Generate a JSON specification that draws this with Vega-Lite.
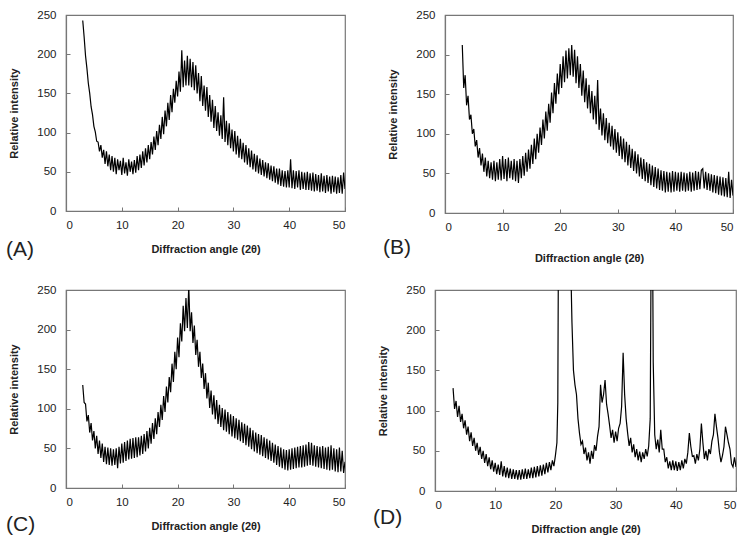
{
"$schema": "https://vega.github.io/schema/vega-lite/v6.json",
"background": "white",
"padding": {"left": 5, "top": 8, "right": 5, "bottom": 5},
"config": {
  "view": {"stroke": "#777", "strokeWidth": 1.2},
  "axis": {"grid": false, "labelFont": "Liberation Sans", "labelFontSize": 11.5, "labelColor": "#222", "titleFont": "Liberation Sans", "titleFontSize": 11, "titleFontWeight": "bold", "titleColor": "#222", "domainColor": "#777", "domainWidth": 1.2, "tickColor": "#777", "tickSize": -4},
  "axisX": {"labelPadding": 12, "titlePadding": 13},
  "axisY": {"labelPadding": 14, "titlePadding": 17},
  "title": {"font": "Liberation Sans", "fontSize": 21, "fontWeight": "normal", "color": "#222"}
},
"datasets": {
"A": [{"x":3,"y":243},{"x":3.25,"y":222},{"x":3.5,"y":198},{"x":3.75,"y":182},{"x":4,"y":163},{"x":4.25,"y":150},{"x":4.5,"y":133},{"x":4.75,"y":123},{"x":5,"y":108},{"x":5.25,"y":101},{"x":5.5,"y":89},{"x":5.75,"y":88},{"x":6,"y":76},{"x":6.25,"y":84},{"x":6.5,"y":68},{"x":6.75,"y":78},{"x":7,"y":60},{"x":7.25,"y":76},{"x":7.5,"y":57},{"x":7.75,"y":72},{"x":8,"y":52},{"x":8.25,"y":70},{"x":8.5,"y":50},{"x":8.75,"y":68},{"x":9,"y":47},{"x":9.25,"y":66},{"x":9.5,"y":52},{"x":9.75,"y":64},{"x":10,"y":46},{"x":10.25,"y":68},{"x":10.5,"y":48},{"x":10.75,"y":62},{"x":11,"y":45},{"x":11.25,"y":66},{"x":11.5,"y":50},{"x":11.75,"y":63},{"x":12,"y":47},{"x":12.25,"y":65},{"x":12.5,"y":49},{"x":12.75,"y":70},{"x":13,"y":52},{"x":13.25,"y":72},{"x":13.5,"y":55},{"x":13.75,"y":76},{"x":14,"y":58},{"x":14.25,"y":80},{"x":14.5,"y":62},{"x":14.75,"y":84},{"x":15,"y":66},{"x":15.25,"y":88},{"x":15.5,"y":72},{"x":15.75,"y":95},{"x":16,"y":78},{"x":16.25,"y":102},{"x":16.5,"y":84},{"x":16.75,"y":110},{"x":17,"y":92},{"x":17.25,"y":120},{"x":17.5,"y":98},{"x":17.75,"y":128},{"x":18,"y":108},{"x":18.25,"y":138},{"x":18.5,"y":116},{"x":18.75,"y":148},{"x":19,"y":126},{"x":19.25,"y":156},{"x":19.5,"y":138},{"x":19.75,"y":166},{"x":20,"y":146},{"x":20.25,"y":178},{"x":20.5,"y":152},{"x":20.75,"y":205},{"x":21,"y":158},{"x":21.25,"y":192},{"x":21.5,"y":160},{"x":21.75,"y":198},{"x":22,"y":160},{"x":22.25,"y":194},{"x":22.5,"y":158},{"x":22.75,"y":190},{"x":23,"y":154},{"x":23.25,"y":186},{"x":23.5,"y":150},{"x":23.75,"y":176},{"x":24,"y":140},{"x":24.25,"y":172},{"x":24.5,"y":134},{"x":24.75,"y":160},{"x":25,"y":128},{"x":25.25,"y":158},{"x":25.5,"y":120},{"x":25.75,"y":148},{"x":26,"y":114},{"x":26.25,"y":142},{"x":26.5,"y":106},{"x":26.75,"y":134},{"x":27,"y":102},{"x":27.25,"y":126},{"x":27.5,"y":96},{"x":27.75,"y":122},{"x":28,"y":92},{"x":28.25,"y":145},{"x":28.5,"y":88},{"x":28.75,"y":115},{"x":29,"y":84},{"x":29.25,"y":112},{"x":29.5,"y":80},{"x":29.75,"y":104},{"x":30,"y":76},{"x":30.25,"y":102},{"x":30.5,"y":72},{"x":30.75,"y":96},{"x":31,"y":68},{"x":31.25,"y":92},{"x":31.5,"y":66},{"x":31.75,"y":87},{"x":32,"y":62},{"x":32.25,"y":84},{"x":32.5,"y":59},{"x":32.75,"y":80},{"x":33,"y":56},{"x":33.25,"y":77},{"x":33.5,"y":53},{"x":33.75,"y":73},{"x":34,"y":50},{"x":34.25,"y":71},{"x":34.5,"y":48},{"x":34.75,"y":67},{"x":35,"y":46},{"x":35.25,"y":65},{"x":35.5,"y":44},{"x":35.75,"y":62},{"x":36,"y":42},{"x":36.25,"y":61},{"x":36.5,"y":40},{"x":36.75,"y":58},{"x":37,"y":38},{"x":37.25,"y":57},{"x":37.5,"y":36},{"x":37.75,"y":54},{"x":38,"y":34},{"x":38.25,"y":54},{"x":38.5,"y":32},{"x":38.75,"y":52},{"x":39,"y":31},{"x":39.25,"y":51},{"x":39.5,"y":30},{"x":39.75,"y":52},{"x":40,"y":30},{"x":40.25,"y":66},{"x":40.5,"y":29},{"x":40.75,"y":52},{"x":41,"y":28},{"x":41.25,"y":51},{"x":41.5,"y":30},{"x":41.75,"y":52},{"x":42,"y":27},{"x":42.25,"y":50},{"x":42.5,"y":28},{"x":42.75,"y":49},{"x":43,"y":27},{"x":43.25,"y":50},{"x":43.5,"y":27},{"x":43.75,"y":48},{"x":44,"y":26},{"x":44.25,"y":49},{"x":44.5,"y":25},{"x":44.75,"y":47},{"x":45,"y":26},{"x":45.25,"y":46},{"x":45.5,"y":24},{"x":45.75,"y":48},{"x":46,"y":25},{"x":46.25,"y":45},{"x":46.5,"y":23},{"x":46.75,"y":46},{"x":47,"y":25},{"x":47.25,"y":44},{"x":47.5,"y":22},{"x":47.75,"y":45},{"x":48,"y":24},{"x":48.25,"y":44},{"x":48.5,"y":22},{"x":48.75,"y":43},{"x":49,"y":23},{"x":49.25,"y":46},{"x":49.5,"y":22},{"x":49.75,"y":49},{"x":50,"y":28}],
"B": [{"x":3,"y":212},{"x":3.25,"y":158},{"x":3.5,"y":174},{"x":3.75,"y":136},{"x":4,"y":148},{"x":4.25,"y":118},{"x":4.5,"y":124},{"x":4.75,"y":100},{"x":5,"y":106},{"x":5.25,"y":84},{"x":5.5,"y":92},{"x":5.75,"y":70},{"x":6,"y":82},{"x":6.25,"y":60},{"x":6.5,"y":75},{"x":6.75,"y":52},{"x":7,"y":70},{"x":7.25,"y":46},{"x":7.5,"y":66},{"x":7.75,"y":44},{"x":8,"y":64},{"x":8.25,"y":42},{"x":8.5,"y":66},{"x":8.75,"y":40},{"x":9,"y":64},{"x":9.25,"y":42},{"x":9.5,"y":68},{"x":9.75,"y":41},{"x":10,"y":72},{"x":10.25,"y":43},{"x":10.5,"y":68},{"x":10.75,"y":40},{"x":11,"y":70},{"x":11.25,"y":44},{"x":11.5,"y":66},{"x":11.75,"y":42},{"x":12,"y":68},{"x":12.25,"y":40},{"x":12.5,"y":66},{"x":12.75,"y":38},{"x":13,"y":68},{"x":13.25,"y":44},{"x":13.5,"y":72},{"x":13.75,"y":47},{"x":14,"y":76},{"x":14.25,"y":52},{"x":14.5,"y":80},{"x":14.75,"y":56},{"x":15,"y":86},{"x":15.25,"y":62},{"x":15.5,"y":94},{"x":15.75,"y":68},{"x":16,"y":100},{"x":16.25,"y":76},{"x":16.5,"y":108},{"x":16.75,"y":86},{"x":17,"y":118},{"x":17.25,"y":94},{"x":17.5,"y":128},{"x":17.75,"y":104},{"x":18,"y":138},{"x":18.25,"y":114},{"x":18.5,"y":152},{"x":18.75,"y":126},{"x":19,"y":164},{"x":19.25,"y":138},{"x":19.5,"y":176},{"x":19.75,"y":150},{"x":20,"y":188},{"x":20.25,"y":158},{"x":20.5,"y":198},{"x":20.75,"y":165},{"x":21,"y":205},{"x":21.25,"y":170},{"x":21.5,"y":208},{"x":21.75,"y":174},{"x":22,"y":212},{"x":22.25,"y":172},{"x":22.5,"y":206},{"x":22.75,"y":164},{"x":23,"y":198},{"x":23.25,"y":158},{"x":23.5,"y":188},{"x":23.75,"y":148},{"x":24,"y":180},{"x":24.25,"y":140},{"x":24.5,"y":170},{"x":24.75,"y":132},{"x":25,"y":162},{"x":25.25,"y":126},{"x":25.5,"y":154},{"x":25.75,"y":118},{"x":26,"y":148},{"x":26.25,"y":112},{"x":26.5,"y":168},{"x":26.75,"y":105},{"x":27,"y":132},{"x":27.25,"y":98},{"x":27.5,"y":126},{"x":27.75,"y":92},{"x":28,"y":120},{"x":28.25,"y":88},{"x":28.5,"y":114},{"x":28.75,"y":84},{"x":29,"y":110},{"x":29.25,"y":80},{"x":29.5,"y":106},{"x":29.75,"y":76},{"x":30,"y":102},{"x":30.25,"y":72},{"x":30.5,"y":97},{"x":30.75,"y":68},{"x":31,"y":94},{"x":31.25,"y":64},{"x":31.5,"y":90},{"x":31.75,"y":60},{"x":32,"y":86},{"x":32.25,"y":57},{"x":32.5,"y":81},{"x":32.75,"y":53},{"x":33,"y":78},{"x":33.25,"y":50},{"x":33.5,"y":74},{"x":33.75,"y":46},{"x":34,"y":70},{"x":34.25,"y":43},{"x":34.5,"y":68},{"x":34.75,"y":40},{"x":35,"y":64},{"x":35.25,"y":38},{"x":35.5,"y":62},{"x":35.75,"y":35},{"x":36,"y":60},{"x":36.25,"y":33},{"x":36.5,"y":58},{"x":36.75,"y":31},{"x":37,"y":56},{"x":37.25,"y":29},{"x":37.5,"y":54},{"x":37.75,"y":28},{"x":38,"y":53},{"x":38.25,"y":26},{"x":38.5,"y":52},{"x":38.75,"y":27},{"x":39,"y":51},{"x":39.25,"y":26},{"x":39.5,"y":53},{"x":39.75,"y":27},{"x":40,"y":52},{"x":40.25,"y":28},{"x":40.5,"y":51},{"x":40.75,"y":27},{"x":41,"y":52},{"x":41.25,"y":28},{"x":41.5,"y":51},{"x":41.75,"y":27},{"x":42,"y":50},{"x":42.25,"y":28},{"x":42.5,"y":52},{"x":42.75,"y":27},{"x":43,"y":51},{"x":43.25,"y":28},{"x":43.5,"y":53},{"x":43.75,"y":29},{"x":44,"y":52},{"x":44.25,"y":30},{"x":44.5,"y":54},{"x":44.75,"y":56},{"x":45,"y":31},{"x":45.25,"y":52},{"x":45.5,"y":29},{"x":45.75,"y":50},{"x":46,"y":28},{"x":46.25,"y":49},{"x":46.5,"y":26},{"x":46.75,"y":48},{"x":47,"y":25},{"x":47.25,"y":47},{"x":47.5,"y":23},{"x":47.75,"y":46},{"x":48,"y":22},{"x":48.25,"y":45},{"x":48.5,"y":21},{"x":48.75,"y":44},{"x":49,"y":20},{"x":49.25,"y":52},{"x":49.5,"y":19},{"x":49.75,"y":42},{"x":50,"y":22}],
"C": [{"x":3,"y":130},{"x":3.25,"y":108},{"x":3.5,"y":106},{"x":3.75,"y":84},{"x":4,"y":92},{"x":4.25,"y":70},{"x":4.5,"y":82},{"x":4.75,"y":60},{"x":5,"y":72},{"x":5.25,"y":50},{"x":5.5,"y":66},{"x":5.75,"y":43},{"x":6,"y":60},{"x":6.25,"y":38},{"x":6.5,"y":56},{"x":6.75,"y":33},{"x":7,"y":52},{"x":7.25,"y":30},{"x":7.5,"y":51},{"x":7.75,"y":29},{"x":8,"y":50},{"x":8.25,"y":28},{"x":8.5,"y":49},{"x":8.75,"y":29},{"x":9,"y":50},{"x":9.25,"y":25},{"x":9.5,"y":52},{"x":9.75,"y":31},{"x":10,"y":56},{"x":10.25,"y":32},{"x":10.5,"y":58},{"x":10.75,"y":34},{"x":11,"y":60},{"x":11.25,"y":36},{"x":11.5,"y":62},{"x":11.75,"y":37},{"x":12,"y":63},{"x":12.25,"y":38},{"x":12.5,"y":64},{"x":12.75,"y":39},{"x":13,"y":64},{"x":13.25,"y":41},{"x":13.5,"y":66},{"x":13.75,"y":43},{"x":14,"y":68},{"x":14.25,"y":46},{"x":14.5,"y":72},{"x":14.75,"y":50},{"x":15,"y":76},{"x":15.25,"y":56},{"x":15.5,"y":82},{"x":15.75,"y":62},{"x":16,"y":88},{"x":16.25,"y":68},{"x":16.5,"y":96},{"x":16.75,"y":77},{"x":17,"y":105},{"x":17.25,"y":86},{"x":17.5,"y":116},{"x":17.75,"y":96},{"x":18,"y":128},{"x":18.25,"y":108},{"x":18.5,"y":140},{"x":18.75,"y":121},{"x":19,"y":157},{"x":19.25,"y":134},{"x":19.5,"y":172},{"x":19.75,"y":150},{"x":20,"y":190},{"x":20.25,"y":165},{"x":20.5,"y":208},{"x":20.75,"y":185},{"x":21,"y":230},{"x":21.25,"y":198},{"x":21.5,"y":240},{"x":21.75,"y":202},{"x":22,"y":255},{"x":22.25,"y":198},{"x":22.5,"y":222},{"x":22.75,"y":183},{"x":23,"y":205},{"x":23.25,"y":168},{"x":23.5,"y":187},{"x":23.75,"y":153},{"x":24,"y":172},{"x":24.25,"y":139},{"x":24.5,"y":157},{"x":24.75,"y":125},{"x":25,"y":145},{"x":25.25,"y":113},{"x":25.5,"y":133},{"x":25.75,"y":101},{"x":26,"y":123},{"x":26.25,"y":93},{"x":26.5,"y":117},{"x":26.75,"y":87},{"x":27,"y":111},{"x":27.25,"y":81},{"x":27.5,"y":105},{"x":27.75,"y":77},{"x":28,"y":101},{"x":28.25,"y":73},{"x":28.5,"y":99},{"x":28.75,"y":71},{"x":29,"y":96},{"x":29.25,"y":68},{"x":29.5,"y":93},{"x":29.75,"y":65},{"x":30,"y":91},{"x":30.25,"y":63},{"x":30.5,"y":88},{"x":30.75,"y":61},{"x":31,"y":86},{"x":31.25,"y":59},{"x":31.5,"y":83},{"x":31.75,"y":57},{"x":32,"y":81},{"x":32.25,"y":54},{"x":32.5,"y":79},{"x":32.75,"y":52},{"x":33,"y":76},{"x":33.25,"y":49},{"x":33.5,"y":73},{"x":33.75,"y":46},{"x":34,"y":70},{"x":34.25,"y":44},{"x":34.5,"y":68},{"x":34.75,"y":42},{"x":35,"y":67},{"x":35.25,"y":40},{"x":35.5,"y":64},{"x":35.75,"y":38},{"x":36,"y":62},{"x":36.25,"y":36},{"x":36.5,"y":60},{"x":36.75,"y":34},{"x":37,"y":57},{"x":37.25,"y":32},{"x":37.5,"y":55},{"x":37.75,"y":29},{"x":38,"y":53},{"x":38.25,"y":27},{"x":38.5,"y":51},{"x":38.75,"y":25},{"x":39,"y":49},{"x":39.25,"y":23},{"x":39.5,"y":48},{"x":39.75,"y":22},{"x":40,"y":49},{"x":40.25,"y":23},{"x":40.5,"y":50},{"x":40.75,"y":24},{"x":41,"y":51},{"x":41.25,"y":25},{"x":41.5,"y":52},{"x":41.75,"y":26},{"x":42,"y":53},{"x":42.25,"y":26},{"x":42.5,"y":54},{"x":42.75,"y":27},{"x":43,"y":55},{"x":43.25,"y":28},{"x":43.5,"y":58},{"x":43.75,"y":29},{"x":44,"y":57},{"x":44.25,"y":28},{"x":44.5,"y":54},{"x":44.75,"y":27},{"x":45,"y":53},{"x":45.25,"y":26},{"x":45.5,"y":52},{"x":45.75,"y":25},{"x":46,"y":53},{"x":46.25,"y":24},{"x":46.5,"y":51},{"x":46.75,"y":23},{"x":47,"y":52},{"x":47.25,"y":22},{"x":47.5,"y":54},{"x":47.75,"y":23},{"x":48,"y":50},{"x":48.25,"y":21},{"x":48.5,"y":49},{"x":48.75,"y":20},{"x":49,"y":51},{"x":49.25,"y":21},{"x":49.5,"y":47},{"x":49.75,"y":19},{"x":50,"y":33}],
"D": [{"x":3,"y":128},{"x":3.25,"y":102},{"x":3.5,"y":112},{"x":3.75,"y":92},{"x":4,"y":106},{"x":4.25,"y":86},{"x":4.5,"y":96},{"x":4.75,"y":78},{"x":5,"y":88},{"x":5.25,"y":70},{"x":5.5,"y":80},{"x":5.75,"y":62},{"x":6,"y":73},{"x":6.25,"y":56},{"x":6.5,"y":66},{"x":6.75,"y":50},{"x":7,"y":60},{"x":7.25,"y":45},{"x":7.5,"y":55},{"x":7.75,"y":40},{"x":8,"y":50},{"x":8.25,"y":35},{"x":8.5,"y":46},{"x":8.75,"y":31},{"x":9,"y":42},{"x":9.25,"y":27},{"x":9.5,"y":38},{"x":9.75,"y":24},{"x":10,"y":35},{"x":10.25,"y":21},{"x":10.5,"y":33},{"x":10.75,"y":20},{"x":11,"y":37},{"x":11.25,"y":18},{"x":11.5,"y":31},{"x":11.75,"y":17},{"x":12,"y":29},{"x":12.25,"y":16},{"x":12.5,"y":28},{"x":12.75,"y":15},{"x":13,"y":27},{"x":13.25,"y":15},{"x":13.5,"y":26},{"x":13.75,"y":14},{"x":14,"y":26},{"x":14.25,"y":14},{"x":14.5,"y":27},{"x":14.75,"y":15},{"x":15,"y":28},{"x":15.25,"y":15},{"x":15.5,"y":27},{"x":15.75,"y":16},{"x":16,"y":29},{"x":16.25,"y":16},{"x":16.5,"y":30},{"x":16.75,"y":17},{"x":17,"y":31},{"x":17.25,"y":18},{"x":17.5,"y":32},{"x":17.75,"y":19},{"x":18,"y":33},{"x":18.25,"y":21},{"x":18.5,"y":35},{"x":18.75,"y":23},{"x":19,"y":36},{"x":19.25,"y":26},{"x":19.5,"y":38},{"x":19.75,"y":31},{"x":20,"y":44},{"x":20.25,"y":60},{"x":20.4,"y":110},{"x":20.5,"y":300},{"x":20.75,"y":900},{"x":21,"y":1200},{"x":21.5,"y":800},{"x":22,"y":500},{"x":22.5,"y":300},{"x":22.75,"y":210},{"x":23,"y":150},{"x":23.25,"y":132},{"x":23.5,"y":120},{"x":23.75,"y":90},{"x":24,"y":72},{"x":24.25,"y":58},{"x":24.5,"y":62},{"x":24.75,"y":46},{"x":25,"y":54},{"x":25.25,"y":38},{"x":25.5,"y":48},{"x":25.75,"y":34},{"x":26,"y":50},{"x":26.25,"y":40},{"x":26.5,"y":57},{"x":26.75,"y":50},{"x":27,"y":68},{"x":27.25,"y":80},{"x":27.5,"y":132},{"x":27.75,"y":110},{"x":28,"y":120},{"x":28.25,"y":138},{"x":28.5,"y":108},{"x":28.75,"y":96},{"x":29,"y":82},{"x":29.25,"y":66},{"x":29.5,"y":76},{"x":29.75,"y":60},{"x":30,"y":74},{"x":30.25,"y":62},{"x":30.5,"y":78},{"x":30.75,"y":84},{"x":31,"y":105},{"x":31.25,"y":172},{"x":31.5,"y":120},{"x":31.75,"y":90},{"x":32,"y":72},{"x":32.25,"y":56},{"x":32.5,"y":66},{"x":32.75,"y":48},{"x":33,"y":58},{"x":33.25,"y":42},{"x":33.5,"y":52},{"x":33.75,"y":38},{"x":34,"y":49},{"x":34.25,"y":36},{"x":34.5,"y":48},{"x":34.75,"y":40},{"x":35,"y":52},{"x":35.25,"y":43},{"x":35.5,"y":56},{"x":35.75,"y":90},{"x":35.9,"y":300},{"x":36,"y":600},{"x":36.15,"y":300},{"x":36.25,"y":160},{"x":36.5,"y":70},{"x":36.75,"y":52},{"x":37,"y":64},{"x":37.25,"y":48},{"x":37.5,"y":76},{"x":37.75,"y":52},{"x":38,"y":52},{"x":38.25,"y":36},{"x":38.5,"y":42},{"x":38.75,"y":28},{"x":39,"y":37},{"x":39.25,"y":26},{"x":39.5,"y":38},{"x":39.75,"y":26},{"x":40,"y":37},{"x":40.25,"y":25},{"x":40.5,"y":36},{"x":40.75,"y":26},{"x":41,"y":38},{"x":41.25,"y":28},{"x":41.5,"y":40},{"x":41.75,"y":34},{"x":42,"y":48},{"x":42.25,"y":72},{"x":42.5,"y":55},{"x":42.75,"y":43},{"x":43,"y":44},{"x":43.25,"y":34},{"x":43.5,"y":46},{"x":43.75,"y":38},{"x":44,"y":52},{"x":44.25,"y":84},{"x":44.5,"y":60},{"x":44.75,"y":40},{"x":45,"y":50},{"x":45.25,"y":38},{"x":45.5,"y":52},{"x":45.75,"y":46},{"x":46,"y":62},{"x":46.25,"y":70},{"x":46.5,"y":96},{"x":46.75,"y":80},{"x":47,"y":66},{"x":47.25,"y":48},{"x":47.5,"y":36},{"x":47.75,"y":44},{"x":48,"y":55},{"x":48.25,"y":80},{"x":48.5,"y":70},{"x":48.75,"y":60},{"x":49,"y":52},{"x":49.25,"y":34},{"x":49.5,"y":30},{"x":49.75,"y":42},{"x":50,"y":30}]
},
"spacing": 18,
"vconcat": [
 {"bounds": "flush", "spacing": 100, "hconcat": [
  {"width": 279, "height": 196, "data": {"name": "A"}, "mark": {"type": "line", "color": "black", "strokeWidth": 1.2, "clip": true},
   "title": {"text": "(A)", "orient": "bottom", "anchor": "start", "frame": "group", "dx": -60, "offset": -16},
   "encoding": {
    "x": {"field": "x", "type": "quantitative", "scale": {"domain": [0, 50]}, "axis": {"values": [0,10,20,30,40,50], "title": "Diffraction angle (2θ)"}},
    "y": {"field": "y", "type": "quantitative", "scale": {"domain": [0, 250]}, "axis": {"values": [0,50,100,150,200,250], "title": "Relative intensity"}}}},
  {"width": 288, "height": 198, "data": {"name": "B"}, "mark": {"type": "line", "color": "black", "strokeWidth": 1.2, "clip": true},
   "title": {"text": "(B)", "orient": "bottom", "anchor": "start", "frame": "group", "dx": -62, "offset": -27},
   "encoding": {
    "x": {"field": "x", "type": "quantitative", "scale": {"domain": [0, 50]}, "axis": {"values": [0,10,20,30,40,50], "title": "Diffraction angle (2θ)", "titlePadding": 20}},
    "y": {"field": "y", "type": "quantitative", "scale": {"domain": [0, 250]}, "axis": {"values": [0,50,100,150,200,250], "title": "Relative intensity"}}}}
 ]},
 {"bounds": "flush", "spacing": 90, "hconcat": [
  {"width": 279, "height": 198, "data": {"name": "C"}, "mark": {"type": "line", "color": "black", "strokeWidth": 1.2, "clip": true},
   "title": {"text": "(C)", "orient": "bottom", "anchor": "start", "frame": "group", "dx": -60, "offset": -18},
   "encoding": {
    "x": {"field": "x", "type": "quantitative", "scale": {"domain": [0, 50]}, "axis": {"values": [0,10,20,30,40,50], "title": "Diffraction angle (2θ)"}},
    "y": {"field": "y", "type": "quantitative", "scale": {"domain": [0, 250]}, "axis": {"values": [0,50,100,150,200,250], "title": "Relative intensity"}}}},
  {"width": 301, "height": 201, "data": {"name": "D"}, "mark": {"type": "line", "color": "black", "strokeWidth": 1.2, "clip": true},
   "title": {"text": "(D)", "orient": "bottom", "anchor": "start", "frame": "group", "dx": -62, "offset": -28},
   "encoding": {
    "x": {"field": "x", "type": "quantitative", "scale": {"domain": [0, 50]}, "axis": {"values": [0,10,20,30,40,50], "title": "Diffraction angle (2θ)"}},
    "y": {"field": "y", "type": "quantitative", "scale": {"domain": [0, 250]}, "axis": {"values": [0,50,100,150,200,250], "title": "Relative intensity"}}}}
 ]}
]
}
